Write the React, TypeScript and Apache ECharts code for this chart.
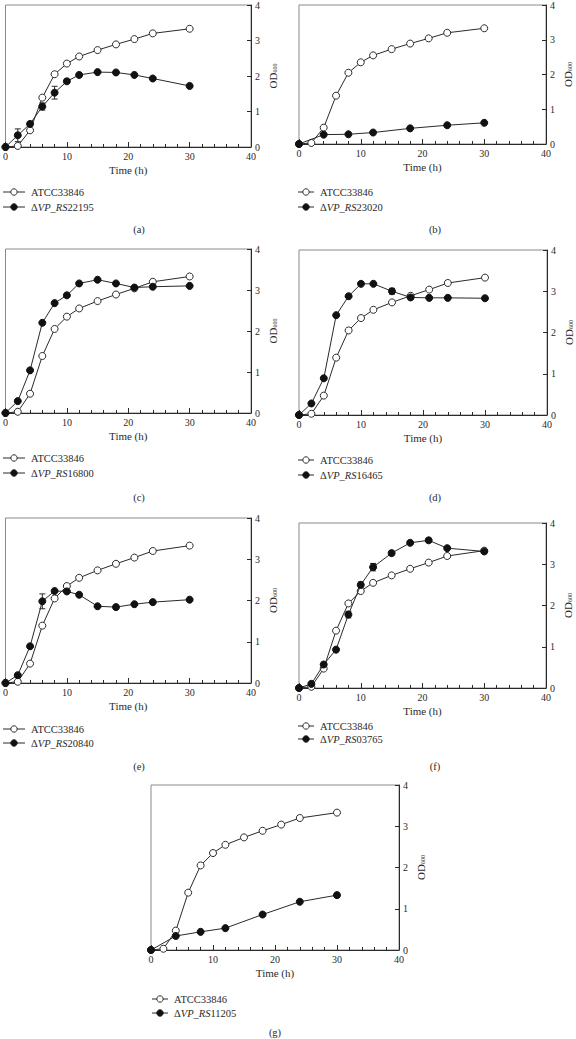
import React, { useEffect, useRef } from "react";
import * as echarts from "echarts";

// ---- data ----
const T_ALL = [0, 2, 4, 6, 8, 10, 12, 15, 18, 21, 24, 30];
const T_SPARSE = [0, 4, 8, 12, 18, 24, 30];
const X_TICKS = [0, 10, 20, 30, 40];
const Y_TICKS = [0, 1, 2, 3, 4];

const WT_NAME = "ATCC33846";
const wildType = [0, 0.03, 0.47, 1.39, 2.05, 2.35, 2.55, 2.73, 2.89, 3.04, 3.2, 3.33];

const mutA = [0, 0.33, 0.65, 1.14, 1.53, 1.85, 2.03, 2.11, 2.1, 2.03, 1.93, 1.72];
const errA = [0, 0.18, 0, 0.1, 0.18, 0.06, 0, 0, 0, 0, 0, 0.05];

const mutB = [0, 0.27, 0.28, 0.33, 0.45, 0.54, 0.61];
const errB = [0, 0, 0, 0, 0, 0, 0];

const mutC = [0, 0.29, 1.04, 2.2, 2.68, 2.87, 3.16, 3.25, 3.16, 3.06, 3.08, 3.1];
const errC = [0, 0, 0, 0, 0, 0.04, 0, 0, 0, 0, 0, 0];

const mutD = [0, 0.28, 0.89, 2.42, 2.88, 3.18, 3.18, 3.0, 2.85, 2.84, 2.84, 2.83];
const errD = [0, 0, 0, 0, 0, 0, 0, 0.07, 0.04, 0, 0, 0];

const mutE = [0, 0.19, 0.89, 1.98, 2.23, 2.22, 2.14, 1.86, 1.84, 1.91, 1.96, 2.02];
const errE = [0, 0, 0, 0.18, 0, 0, 0, 0, 0, 0, 0, 0];

const mutF = [0, 0.1, 0.57, 0.93, 1.78, 2.5, 2.93, 3.27, 3.52, 3.58, 3.39, 3.31];
const errF = [0, 0, 0, 0, 0.08, 0.07, 0.09, 0.05, 0.04, 0.05, 0, 0];

const mutG = [0, 0.34, 0.44, 0.53, 0.86, 1.17, 1.33];
const errG = [0, 0, 0, 0, 0, 0, 0];

const FONT = "'Liberation Serif', 'DejaVu Serif', serif";
const INK = "#2a2a2a";

type Panel = {
  cap: string;
  mutant: string;
  t: number[];
  v: number[];
  e: number[];
  left: number;
  top: number;
  w: number;
  h: number;
  lx: number;
  ly1: number;
  ly2: number;
  lw: number;
  cx: number;
  cy: number;
};

const panels: Panel[] = [
  { cap: "(a)", mutant: "ΔVP_RS22195", t: T_ALL, v: mutA, e: errA, left: 3, top: -17, w: 248, h: 164, lx: 3, ly1: 192, ly2: 207, lw: 22, cx: 139, cy: 229 },
  { cap: "(b)", mutant: "ΔVP_RS23020", t: T_SPARSE, v: mutB, e: errB, left: 299, top: -20, w: 247, h: 164, lx: 298, ly1: 192, ly2: 207, lw: 16, cx: 435, cy: 229 },
  { cap: "(c)", mutant: "ΔVP_RS16800", t: T_ALL, v: mutC, e: errC, left: 3, top: 249, w: 248, h: 164, lx: 3, ly1: 458, ly2: 473, lw: 22, cx: 139, cy: 497 },
  { cap: "(d)", mutant: "ΔVP_RS16465", t: T_ALL, v: mutD, e: errD, left: 299, top: 250, w: 248, h: 165, lx: 298, ly1: 460, ly2: 475, lw: 16, cx: 435, cy: 497 },
  { cap: "(e)", mutant: "ΔVP_RS20840", t: T_ALL, v: mutE, e: errE, left: 3, top: 518, w: 248, h: 165, lx: 3, ly1: 729, ly2: 743, lw: 22, cx: 139, cy: 766 },
  { cap: "(f)", mutant: "ΔVP_RS03765", t: T_ALL, v: mutF, e: errF, left: 299, top: 523, w: 247, h: 165, lx: 298, ly1: 726, ly2: 739, lw: 16, cx: 435, cy: 766 },
  { cap: "(g)", mutant: "ΔVP_RS11205", t: T_SPARSE, v: mutG, e: errG, left: 151, top: 785, w: 248, h: 165, lx: 152, ly1: 999, ly2: 1013, lw: 16, cx: 275, cy: 1032 },
];

function richName(name: string) {
  if (name.startsWith("ΔVP_RS")) return "Δ{i|VP_RS}" + name.slice(6);
  return name;
}

function errorRender(params: any, api: any) {
  const x = api.value(0);
  const y = api.value(1);
  const e = api.value(2);
  const top = api.coord([x, y + e]);
  const bot = api.coord([x, y - e]);
  const cw = 3;
  const style = { stroke: INK, lineWidth: 1 };
  return {
    type: "group",
    children: [
      { type: "line", shape: { x1: top[0], y1: top[1], x2: bot[0], y2: bot[1] }, style },
      { type: "line", shape: { x1: top[0] - cw, y1: top[1], x2: top[0] + cw, y2: top[1] }, style },
      { type: "line", shape: { x1: bot[0] - cw, y1: bot[1], x2: bot[0] + cw, y2: bot[1] }, style },
    ],
  };
}

function legendRow(x: number, y: number, w: number, name: string, filled: boolean) {
  return [
    { type: "line", shape: { x1: x, y1: y, x2: x + w, y2: y }, style: { stroke: INK, lineWidth: 1 }, silent: true },
    {
      type: "circle",
      shape: { cx: x + w / 2, cy: y, r: 3.2 },
      style: { fill: filled ? "#111" : "#fff", stroke: filled ? "#111" : INK, lineWidth: 1 },
      silent: true,
    },
    {
      type: "text",
      x: x + w + 6,
      y: y,
      silent: true,
      style: {
        text: richName(name),
        fontFamily: FONT,
        fontSize: 10.5,
        fill: INK,
        verticalAlign: "middle",
        rich: { i: { fontFamily: FONT, fontSize: 10.5, fontStyle: "italic", fill: INK } },
      },
    },
  ];
}

export default function App() {
  const ref = useRef<HTMLDivElement>(null);
  useEffect(() => {
    if (!ref.current) return;
    const chart = echarts.init(ref.current, undefined, { renderer: "svg" });

    const series: any[] = [];
    panels.forEach((p, i) => {
      series.push({
        type: "custom",
        name: "err" + i,
        xAxisIndex: i,
        yAxisIndex: i,
        renderItem: errorRender,
        encode: { x: 0, y: 1 },
        z: 1,
        data: p.t.map((t, k) => [t, p.v[k], p.e[k]]).filter((d) => d[2] > 0),
      });
      series.push({
        type: "line",
        name: WT_NAME,
        xAxisIndex: i,
        yAxisIndex: i,
        data: T_ALL.map((t, k) => [t, wildType[k]]),
        symbol: "circle",
        symbolSize: 7,
        itemStyle: { color: "#fff", borderColor: INK, borderWidth: 1 },
        lineStyle: { color: INK, width: 1 },
        z: 3,
      });
      series.push({
        type: "line",
        name: p.mutant,
        xAxisIndex: i,
        yAxisIndex: i,
        data: p.t.map((t, k) => [t, p.v[k]]),
        symbol: "circle",
        symbolSize: 7,
        itemStyle: { color: "#111", borderColor: "#111", borderWidth: 1 },
        lineStyle: { color: INK, width: 1 },
        z: 4,
      });
    });

    const textBase = { fontFamily: FONT, color: INK };

    const graphics: any[] = [];
    panels.forEach((p) => {
      graphics.push(...legendRow(p.lx, p.ly1, p.lw, WT_NAME, false));
      graphics.push(...legendRow(p.lx, p.ly2, p.lw, p.mutant, true));
      graphics.push({
        type: "text",
        x: p.cx,
        y: p.cy,
        silent: true,
        style: { text: p.cap, fontFamily: FONT, fontSize: 10.5, fill: INK, align: "center", verticalAlign: "middle" },
      });
    });

    chart.setOption({
      animation: false,
      backgroundColor: "#fff",
      grid: panels.map((p) => ({
        left: p.left,
        top: p.top,
        width: p.w,
        height: p.h,
        show: true,
        borderColor: "#8a8a8a",
        borderWidth: 1,
        backgroundColor: "transparent",
      })),
      xAxis: panels.map((_, i) => ({
        gridIndex: i,
        type: "value",
        min: X_TICKS[0],
        max: X_TICKS[X_TICKS.length - 1],
        interval: X_TICKS[1] - X_TICKS[0],
        axisLine: { onZero: false, lineStyle: { color: INK, width: 1 } },
        axisTick: { inside: true, length: 5, lineStyle: { color: INK } },
        minorTick: { show: true, splitNumber: 5, length: 3, lineStyle: { color: INK } },
        splitLine: { show: false },
        axisLabel: { margin: 4, fontSize: 10, ...textBase },
        name: "Time (h)",
        nameLocation: "middle",
        nameGap: 17,
        nameTextStyle: { fontSize: 11, ...textBase },
      })),
      yAxis: panels.map((_, i) => ({
        gridIndex: i,
        type: "value",
        position: "right",
        min: Y_TICKS[0],
        max: Y_TICKS[Y_TICKS.length - 1],
        interval: Y_TICKS[1] - Y_TICKS[0],
        axisLine: { show: true, onZero: false, lineStyle: { color: INK, width: 1 } },
        axisTick: { show: true, inside: true, length: 4, lineStyle: { color: INK } },
        splitLine: { show: false },
        axisLabel: { margin: 4, fontSize: 10, ...textBase },
        name: "OD{s|600}",
        nameLocation: "middle",
        nameRotate: 90,
        nameGap: 16,
        nameTextStyle: {
          fontSize: 11,
          ...textBase,
          rich: { s: { fontSize: 6, fontFamily: FONT, color: INK, padding: [5, 0, 0, 0] } },
        },
      })),
      graphic: graphics,
      series,
    });
    return () => chart.dispose();
  }, []);
  return (
    <div
      ref={ref}
      style={{ position: "fixed", left: 0, top: 0, width: 576, height: 1039, background: "#fff" }}
    />
  );
}
